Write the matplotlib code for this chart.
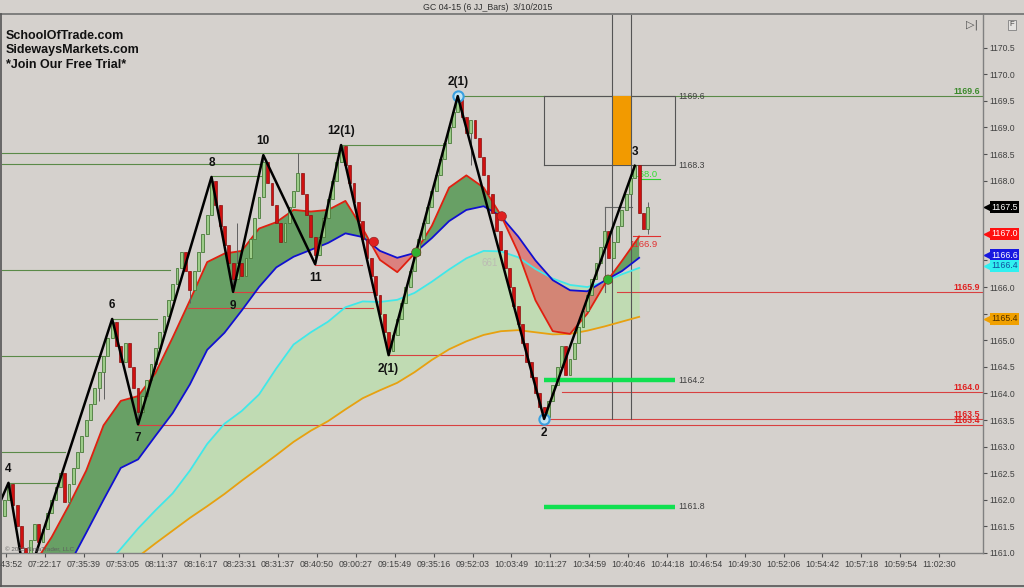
import matplotlib
matplotlib.use('Agg')
import matplotlib.pyplot as plt
from matplotlib.lines import Line2D
import numpy as np

plt.rcParams['font.family'] = ['Liberation Sans', 'DejaVu Sans']

BG = '#d5d1cd'
END = 226.6          # right edge of the price panel (in bar units)

# ── JJ bars: close of every bar (open = previous close) ──────────────────────
first_open = 1161.70
closes = [
    1162.00, 1162.30, 1161.90, 1161.50, 1161.10, 1160.85, 1161.25, 1161.55, 1161.20, 1161.45,
    1161.75, 1162.00, 1162.25, 1162.50, 1161.95, 1162.30, 1162.60, 1162.90, 1163.20, 1163.50,
    1163.80, 1164.10, 1164.40, 1164.70, 1165.05, 1165.35, 1164.90, 1164.60, 1164.95, 1164.50,
    1164.10, 1163.65, 1163.95, 1164.25, 1164.55, 1164.85, 1165.15, 1165.45, 1165.75, 1166.05,
    1166.35, 1166.65, 1166.30, 1165.95, 1166.30, 1166.65, 1167.00, 1167.35, 1168.00, 1167.55,
    1167.15, 1166.80, 1166.45, 1166.15, 1166.45, 1166.20, 1166.55, 1166.90, 1167.30, 1167.70,
    1168.35, 1167.95, 1167.55, 1167.20, 1166.85, 1167.20, 1167.50, 1167.80, 1168.15, 1167.75,
    1167.35, 1166.95, 1166.60, 1166.95, 1167.30, 1167.65, 1168.00, 1168.35, 1168.65, 1168.30,
    1167.95, 1167.60, 1167.25, 1166.90, 1166.55, 1166.20, 1165.85, 1165.50, 1165.15, 1164.80,
    1165.10, 1165.40, 1165.70, 1166.00, 1166.30, 1166.60, 1166.90, 1167.20, 1167.50, 1167.80,
    1168.10, 1168.40, 1168.70, 1169.00, 1169.30, 1169.55, 1169.20, 1168.90, 1169.15, 1168.80,
    1168.45, 1168.10, 1167.75, 1167.40, 1167.05, 1166.70, 1166.35, 1166.00, 1165.65, 1165.30,
    1164.95, 1164.60, 1164.30, 1164.00, 1163.75, 1163.55, 1163.85, 1164.15, 1164.50, 1164.90,
    1164.35, 1164.65, 1164.95, 1165.25, 1165.55, 1165.85, 1166.15, 1166.45, 1166.75, 1167.05,
    1166.55, 1166.85, 1167.15, 1167.45, 1167.75, 1168.05, 1168.30, 1167.40, 1167.10, 1167.50,
]
bar_high = {48: 1168.07, 54: 1167.20, 60: 1168.48, 68: 1168.52, 78: 1168.67,
            105: 1169.59, 146: 1168.28, 149: 1167.60}
bar_low = {5: 1160.40, 15: 1161.90, 22: 1163.85, 23: 1163.90, 31: 1163.42, 43: 1165.70,
           53: 1165.91, 72: 1166.43, 89: 1164.72, 108: 1168.30, 125: 1163.52, 149: 1167.00}

# ── swing zigzag ─────────────────────────────────────────────────────────────
zz_bar = [-1.5, 1, 5, 25, 31, 48, 53, 60, 72, 78, 89, 105, 125, 146]
zz_px = [1161.85, 1162.32, 1160.40, 1165.40, 1163.42, 1168.07, 1165.91, 1168.48,
         1166.43, 1168.67, 1164.72, 1169.59, 1163.52, 1168.28]
zz_lbl = ['', '4', '', '6', '7', '8', '9', '10', '11', '12(1)', '2(1)', '2(1)', '2', '3']

# ── moving averages (sampled every 4 bars) ───────────────────────────────────
ma_bars = [3, 7, 11, 15, 19, 23, 27, 31, 35, 39, 43, 47, 51, 55, 59, 63, 67, 71, 75,
           79, 83, 87, 91, 95, 99, 103, 107, 111, 115, 119, 123, 127, 131, 135, 139, 143, 147]
ma_red = [1160.25, 1160.80, 1161.30, 1161.90, 1162.55, 1163.40, 1163.86, 1163.95, 1164.38,
          1165.05, 1165.75, 1166.47, 1166.63, 1166.68, 1167.10, 1167.22, 1167.45, 1167.42,
          1167.45, 1167.62, 1167.10, 1166.51, 1166.28, 1166.63, 1167.15, 1167.87, 1168.10,
          1167.87, 1167.35, 1166.65, 1165.75, 1165.17, 1165.12, 1165.50, 1166.05, 1166.49, 1166.95]
ma_blue = [1158.90, 1159.50, 1160.15, 1160.77, 1161.38, 1162.00, 1162.60, 1162.76, 1163.20,
           1163.63, 1164.17, 1164.82, 1165.14, 1165.56, 1166.00, 1166.37, 1166.57, 1166.70,
           1166.83, 1167.01, 1166.94, 1166.68, 1166.55, 1166.64, 1166.92, 1167.24, 1167.45,
           1167.52, 1167.33, 1166.95, 1166.50, 1166.13, 1165.94, 1165.92, 1166.12, 1166.30, 1166.55]
ma_cyan = [1158.90, 1159.25, 1159.60, 1159.97, 1160.34, 1160.71, 1161.08, 1161.46, 1161.80,
           1162.12, 1162.55, 1163.05, 1163.43, 1163.67, 1163.98, 1164.47, 1164.92, 1165.15,
           1165.35, 1165.62, 1165.73, 1165.72, 1165.76, 1165.89, 1166.10, 1166.33, 1166.54,
           1166.68, 1166.67, 1166.56, 1166.34, 1166.16, 1166.04, 1166.00, 1166.10, 1166.24, 1166.36]
ma_orange = [1159.25, 1159.50, 1159.72, 1159.96, 1160.20, 1160.45, 1160.69, 1160.93, 1161.18,
             1161.42, 1161.66, 1161.88, 1162.11, 1162.36, 1162.60, 1162.84, 1163.09, 1163.30,
             1163.48, 1163.70, 1163.91, 1164.06, 1164.20, 1164.40, 1164.63, 1164.83, 1164.98,
             1165.10, 1165.17, 1165.19, 1165.15, 1165.11, 1165.12, 1165.18, 1165.26, 1165.35, 1165.44]

cross_bar = [85.6, 95.4, 115.2, 139.8]
cross_px = [1166.85, 1166.65, 1167.33, 1166.14]
cross_col = ['#e02020', '#30b030', '#e02020', '#30b030']

# ── horizontal levels ────────────────────────────────────────────────────────
green_lv = [1169.59, 1168.67, 1168.52, 1168.31, 1168.09, 1166.32, 1165.40, 1164.70, 1162.90, 1162.32]
green_x0 = [105, 78, -0.5, -0.5, 48, -0.5, 25, -0.5, -0.5, 1]
green_x1 = [END, 101.6, 77, 59.7, 59.7, 38.4, 35.4, 23.3, 14.1, 12.2]

red_lv = [1166.41, 1165.91, 1165.61, 1164.72, 1163.41, 1163.52, 1164.03, 1165.91]
red_x0 = [72, 53, 42.6, 89, 31, 125, 129.2, 141.9]
red_x1 = [82.8, 85.4, 85.4, 120.1, END, END, END, END]

right_lbl = ['1169.6', '1165.9', '1164.0', '1163.5', '1163.4']
right_lbl_px = [1169.59, 1165.91, 1164.03, 1163.52, 1163.41]
right_lbl_col = ['#3a8a2a', '#e02020', '#e02020', '#e02020', '#e02020']

target_bars = [125, 155.3]
target_top, target_bot = 1169.59, 1168.29
zone_bars = [140.7, 145.1]
proj_lv = [1164.25, 1161.87]
proj_lbl = ['1164.2', '1161.8']

flag_px = [1167.5, 1167.0, 1166.6, 1166.4, 1165.4]
flag_bg = ['#000000', '#ff1010', '#1818e0', '#30f0f0', '#f0a000']
flag_fg = ['white', 'white', 'white', '#1050a0', '#503000']

tick_times = ['06:43:52', '07:22:17', '07:35:39', '07:53:05', '08:11:37', '08:16:17', '08:23:31',
              '08:31:37', '08:40:50', '09:00:27', '09:15:49', '09:35:16', '09:52:03', '10:03:49',
              '10:11:27', '10:34:59', '10:40:46', '10:44:18', '10:46:54', '10:49:30', '10:52:06',
              '10:54:42', '10:57:18', '10:59:54', '11:02:30']

# ── figure ───────────────────────────────────────────────────────────────────
fig = plt.figure(figsize=(10.24, 5.88), dpi=100)
fig.patch.set_facecolor(BG)
ax = fig.add_axes([2/1024, 35/588, 981/1024, 538/588])
ax.set_facecolor(BG)
ax.set_xlim(-0.5, END)
ax.set_ylim(1161.0, 1171.115)

mb = np.array(ma_bars)
r, b = np.array(ma_red), np.array(ma_blue)
c, o = np.array(ma_cyan), np.array(ma_orange)

# bands
ax.fill_between(mb, c, o, color='#b8e0a8', alpha=0.7, lw=0, zorder=1)
ax.fill_between(mb, r, b, where=r >= b, interpolate=True, color='#2e862e', alpha=0.65, lw=0, zorder=1.5)
ax.fill_between(mb, r, b, where=r < b, interpolate=True, color='#e05050', alpha=0.62, lw=0, zorder=1.5)

# level lines
for y, x0, x1 in zip(green_lv, green_x0, green_x1):
    ax.plot([x0, x1], [y, y], color='#5a8a48', lw=0.8, zorder=2)
for y, x0, x1 in zip(red_lv, red_x0, red_x1):
    ax.plot([x0, x1], [y, y], color='#d84040', lw=0.8, zorder=2)

ytx = ax.get_yaxis_transform()
for t, y, col in zip(right_lbl, right_lbl_px, right_lbl_col):
    ax.text(0.997, y, t, transform=ytx, ha='right', va='bottom', fontsize=6.3,
            fontweight='bold', color=col, zorder=3)

# target box + zone
ax.plot([target_bars[0], target_bars[1], target_bars[1], target_bars[0]],
        [target_top, target_top, target_bot, target_bot], color='#555555', lw=0.8, zorder=2)
ax.plot([target_bars[0], target_bars[0]], [target_top, target_bot], color='#555555', lw=0.8, zorder=2)
ax.fill_between(zone_bars, target_bot, target_top, color='#f29a00', lw=0, zorder=2.2)
for xv in zone_bars:
    ax.plot([xv, xv], [1163.52, 1171.2], color='#555555', lw=0.8, zorder=2.3)
ax.plot([139.2, 145.3], [1167.5, 1167.5], color='#666666', lw=0.8, zorder=2)
ax.plot([139.2, 139.2], [1167.5, 1165.91], color='#666666', lw=0.8, zorder=2)
for t, y in zip(['1169.6', '1168.3'], [target_top, target_bot]):
    ax.text(156, y, t, fontsize=6.3, va='center', color='#404040', zorder=3)
for t, y in zip(proj_lbl, proj_lv):
    ax.plot(target_bars, [y, y], color='#10e050', lw=3.2, solid_capstyle='butt', zorder=2.5)
    ax.text(156, y, t, fontsize=6.3, va='center', color='#404040', zorder=3)

# short value markers at the last bar
ax.plot([146.9, 151.8], [1168.03, 1168.03], color='#30d030', lw=0.8, zorder=2)
ax.text(144.6, 1168.12, '1168.0', fontsize=6.8, va='center', color='#30e030', zorder=2)
ax.plot([145.6, 151.8], [1166.96, 1166.96], color='#e03030', lw=0.8, zorder=2)
ax.text(144.7, 1166.80, '1166.9', fontsize=6.8, va='center', color='#e03030', zorder=2)
ax.text(110.6, 1166.46, '661', fontsize=7, va='center', color='#bcbcb4', zorder=2)

# moving averages
ax.plot(mb, o, color='#e8a010', lw=1.3, zorder=3)
ax.plot(mb, c, color='#40e8e8', lw=1.3, zorder=3)
ax.plot(mb, b, color='#1010d0', lw=1.3, zorder=3)
ax.plot(mb, r, color='#e02010', lw=1.3, zorder=3)

# candles
cl = np.array(closes)
op = np.array([first_open] + closes[:-1])
xs = np.arange(len(cl))
hi = np.array([max(op[i], cl[i], bar_high.get(i, 0)) for i in xs])
lo = np.array([min(op[i], cl[i], bar_low.get(i, 1e9)) for i in xs])
up = cl >= op
ax.vlines(xs, lo, hi, color='#606060', lw=0.7, zorder=4)
ax.bar(xs[up], (cl - op)[up], bottom=op[up], width=0.66, color='#9ccc88',
       edgecolor='#4a7a3a', lw=0.6, zorder=4.5)
ax.bar(xs[~up], (cl - op)[~up], bottom=op[~up], width=0.66, color='#d01010',
       edgecolor='#8a1010', lw=0.5, zorder=4.5)

# zigzag
ax.plot(zz_bar, zz_px, color='black', lw=1.8, zorder=6)
for i, (xb, yp, t) in enumerate(zip(zz_bar, zz_px, zz_lbl)):
    if not t:
        continue
    off = 10 if yp > zz_px[i - 1] else -10
    ax.annotate(t, (xb, yp), xytext=(0, off), textcoords='offset points', ha='center',
                va='center', fontsize=8.5, fontweight='bold', color='#111111', zorder=7)

ax.scatter([105, 125], [1169.59, 1163.52], s=55, facecolor='#bfe4f4', edgecolor='#3aa0e0',
           lw=1.5, zorder=5.5)
ax.scatter(cross_bar, cross_px, s=45, c=cross_col, edgecolor='#802020', lw=0.4, zorder=6.5)

# right axis flags
for y, bg, fg in zip(flag_px, flag_bg, flag_fg):
    ax.plot([1.0 + 6/981], [y], marker='<', ms=7.5, color=bg, transform=ytx,
            clip_on=False, zorder=8)
    ax.text(1.0 + 8/981, y, f'{y:.1f}', transform=ytx, ha='left', va='center',
            fontsize=6.3, color=fg, zorder=9, clip_on=False,
            bbox=dict(boxstyle='square,pad=0.15', fc=bg, ec='none'))

# axes styling
yt = np.arange(1161.0, 1170.51, 0.5)
ax.yaxis.tick_right()
ax.set_yticks(yt)
hidden = {1167.5, 1167.0, 1166.5, 1165.5}
ax.set_yticklabels(['' if round(v, 1) in hidden else f'{v:.1f}' for v in yt])
ax.set_xticks(np.arange(len(tick_times)) * 9 + 0.43)
ax.set_xticklabels(tick_times)
ax.tick_params(axis='y', direction='out', length=3, pad=1.5, labelsize=6.2,
               colors='#505050', labelcolor='#404040')
ax.tick_params(axis='x', direction='out', length=3, pad=2, labelsize=6.3,
               colors='#505050', labelcolor='#404040')
for s in ['top', 'left']:
    ax.spines[s].set_visible(False)
for s in ['right', 'bottom']:
    ax.spines[s].set_color('#808080')
    ax.spines[s].set_linewidth(1)

ax.text(0.003, 0.004, '© 2015 NinjaTrader, LLC', transform=ax.transAxes, fontsize=4.5,
        color='#606060', zorder=8)

# frame, title and watermark text
fig.add_artist(Line2D([0, 1], [1 - 14/588] * 2, color='#707070', lw=1.2))
fig.add_artist(Line2D([1/1024, 1/1024], [1 - 586/588, 1 - 14/588], color='#555555', lw=1.2))
fig.add_artist(Line2D([0, 1], [1 - 586/588] * 2, color='#555555', lw=1.2))
fig.text(488/1024, 1 - 7/588, 'GC 04-15 (6 JJ_Bars)  3/10/2015', ha='center', va='center',
         fontsize=6.3, color='#303030')
fig.text(972/1024, 1 - 25/588, '▷|', ha='center', va='center', fontsize=8,
         color='#505050', family='DejaVu Sans')
fig.text(1012/1024, 1 - 25/588, 'F', ha='center', va='center', fontsize=5.5, color='#404040',
         bbox=dict(boxstyle='square,pad=0.2', fc='#e4e2e0', ec='#808080', lw=0.6))
for k, t in enumerate(['SchoolOfTrade.com', 'SidewaysMarkets.com', '*Join Our Free Trial*']):
    fig.text(6/1024, 1 - (36 + 14.5*k)/588, t, ha='left', va='center', fontsize=9,
             fontweight='bold', color='#111111')

fig.savefig('out.png', dpi=100, facecolor=BG)
